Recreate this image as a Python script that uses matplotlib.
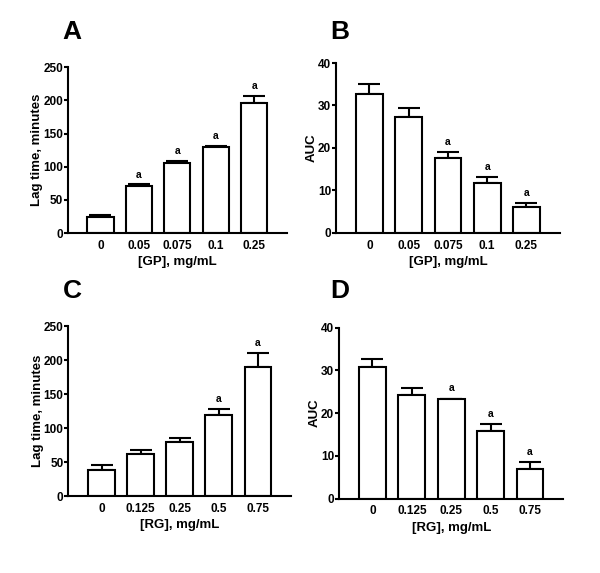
import numpy as np
import matplotlib.pyplot as plt

plt.rcParams['font.family'] = ['Liberation Sans', 'DejaVu Sans']
plt.rcParams['font.weight'] = 'bold'

# Panel A / B: grape pomace (GP)
gp_labels = ['0', '0.05', '0.075', '0.1', '0.25']
gp_lag = [24.1, 70.8, 106.0, 129.0, 196.3]
gp_lag_err = [3.9, 2.5, 2.4, 2.5, 10.0]
gp_lag_sig = [False, True, True, True, True]
gp_auc = [32.8, 27.3, 17.5, 11.6, 6.0]
gp_auc_err = [2.2, 2.2, 1.4, 1.5, 0.9]
gp_auc_sig = [False, False, True, True, True]

# Panel C / D: RG
rg_labels = ['0', '0.125', '0.25', '0.5', '0.75']
rg_lag = [38.2, 61.8, 79.9, 119.1, 189.2]
rg_lag_err = [7.9, 6.8, 4.9, 9.3, 20.6]
rg_lag_sig = [False, False, False, True, True]
rg_auc = [30.7, 24.2, 23.2, 15.7, 6.9]
rg_auc_err = [2.0, 1.7, 0.2, 1.8, 1.7]
rg_auc_sig = [False, False, True, True, True]

fig = plt.figure(figsize=(6.0, 5.73), dpi=100)

def panel(rect, labels, vals, errs, sig, ymax, ystep, ylabel, xlabel, letter, lx, ly):
    ax = fig.add_axes(rect)
    x = np.arange(len(vals))
    ax.bar(x, vals, width=0.68, color='white', edgecolor='black', linewidth=1.5, zorder=2)
    ax.errorbar(x, vals, yerr=[np.zeros(len(vals)), errs], fmt='none',
                ecolor='black', elinewidth=1.5, capsize=8, capthick=1.5, zorder=1)
    for xi, v, e, s in zip(x, vals, errs, sig):
        if s:
            ax.text(xi, v + e + ymax * 0.03, 'a', ha='center', va='bottom',
                    fontsize=7.5, fontweight='bold')
    ax.set_xlim(-0.85, len(vals) - 0.15)
    ax.set_ylim(0, ymax)
    ax.set_yticks(np.arange(0, ymax + 1, ystep))
    ax.set_xticks(x)
    ax.set_xticklabels(labels)
    ax.spines['top'].set_visible(False)
    ax.spines['right'].set_visible(False)
    ax.spines['left'].set_linewidth(1.5)
    ax.spines['bottom'].set_linewidth(1.5)
    ax.tick_params(axis='x', length=0, labelsize=8.5, pad=5)
    ax.tick_params(axis='y', length=3, width=1.5, labelsize=8.5, pad=0.5)
    for t in ax.get_xticklabels() + ax.get_yticklabels():
        t.set_fontweight('bold')
    ax.set_ylabel(ylabel, fontsize=9.5, fontweight='bold', labelpad=0)
    ax.set_xlabel(xlabel, fontsize=9.5, fontweight='bold', labelpad=3)
    fig.text(lx, ly, letter, fontsize=19, fontweight='bold', ha='center', va='center')
    return ax

panel([0.113, 0.593, 0.365, 0.290], gp_labels, gp_lag, gp_lag_err, gp_lag_sig,
      250, 50, 'Lag time, minutes', '[GP], mg/mL', 'A', 72 / 600, 1 - 32 / 573)
panel([0.560, 0.594, 0.373, 0.296], gp_labels, gp_auc, gp_auc_err, gp_auc_sig,
      40, 10, 'AUC', '[GP], mg/mL', 'B', 340 / 600, 1 - 32 / 573)
panel([0.114, 0.134, 0.371, 0.297], rg_labels, rg_lag, rg_lag_err, rg_lag_sig,
      250, 50, 'Lag time, minutes', '[RG], mg/mL', 'C', 72 / 600, 1 - 291 / 573)
panel([0.565, 0.130, 0.374, 0.298], rg_labels, rg_auc, rg_auc_err, rg_auc_sig,
      40, 10, 'AUC', '[RG], mg/mL', 'D', 340 / 600, 1 - 291 / 573)

fig.savefig('out.png', dpi=100)
